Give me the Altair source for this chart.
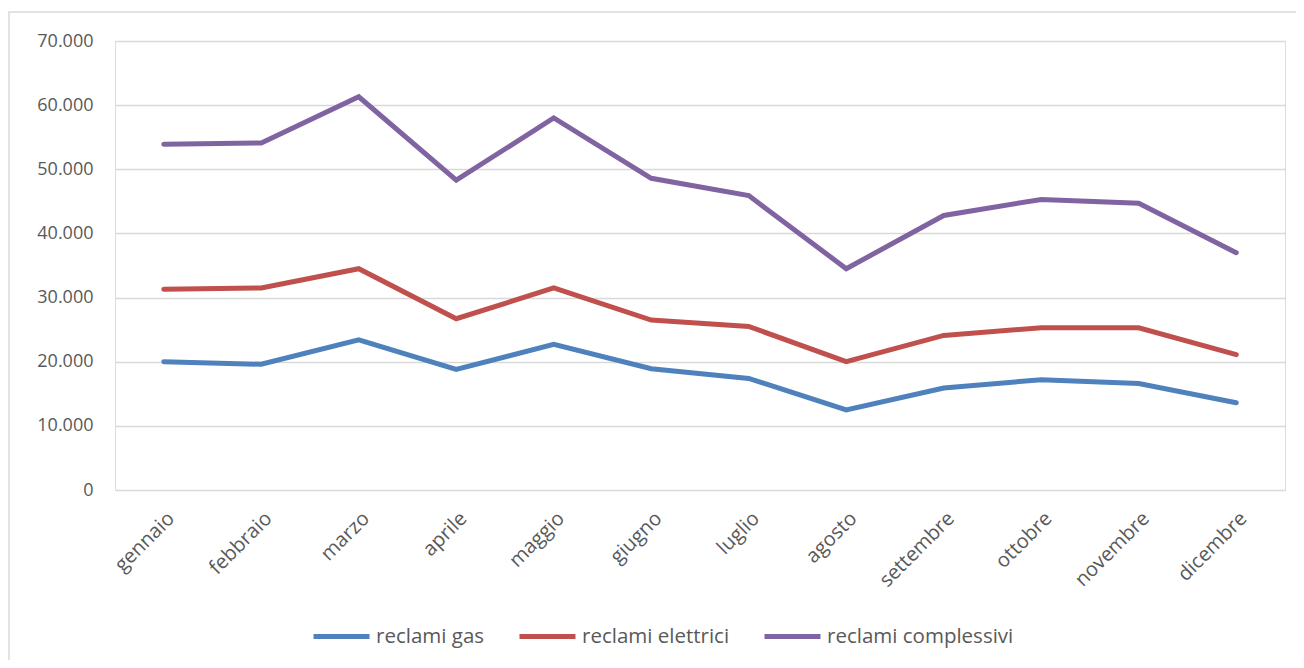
import altair as alt
import pandas as pd

mesi = ["gennaio", "febbraio", "marzo", "aprile", "maggio", "giugno",
        "luglio", "agosto", "settembre", "ottobre", "novembre", "dicembre"]
reclami_gas = [20000, 19600, 23400, 18800, 22700, 18900, 17400, 12500, 15900, 17200, 16600, 13600]
reclami_elettrici = [31300, 31500, 34500, 26700, 31500, 26500, 25500, 20000, 24100, 25300, 25300, 21100]
reclami_complessivi = [53900, 54100, 61300, 48300, 58000, 48600, 45900, 34500, 42800, 45300, 44700, 37000]
serie = ["reclami gas", "reclami elettrici", "reclami complessivi"]
colori = ["#4F81BD", "#C0504D", "#8064A2"]
y_ticks = [0, 10000, 20000, 30000, 40000, 50000, 60000, 70000]

rows = []
for nome, vals in zip(serie, [reclami_gas, reclami_elettrici, reclami_complessivi]):
    for m, v in zip(mesi, vals):
        rows.append({"mese": m, "serie": nome, "valore": v})
df = pd.DataFrame(rows)

FONT = "Open Sans"

lines = alt.Chart(df).mark_line(strokeWidth=5, strokeCap="round").encode(
    x=alt.X("mese:N", sort=mesi, title=None,
            scale=alt.Scale(type="point", padding=0.5),
            axis=alt.Axis(labelAngle=315, grid=False, domain=False, ticks=False,
                          labelPadding=18, labelFontSize=20, labelFont=FONT,
                          labelColor="#595959", labelLimit=0)),
    y=alt.Y("valore:Q", title=None,
            scale=alt.Scale(domain=[0, 70000], nice=False),
            axis=alt.Axis(values=y_ticks, domain=False, ticks=False,
                          gridColor="#D9D9D9", gridWidth=1.4,
                          labelPadding=22, labelFontSize=18, labelFont=FONT,
                          labelColor="#595959",
                          labelExpr="replace(format(datum.value, ',d'), /,/g, '.')")),
    color=alt.Color("serie:N", sort=serie,
                    scale=alt.Scale(domain=serie, range=colori),
                    legend=alt.Legend(title=None, orient="none", direction="horizontal",
                                      legendX=196, legendY=565,
                                      symbolType="stroke", symbolSize=3136,
                                      symbolStrokeWidth=5, labelOffset=4,
                                      columnPadding=24, labelFontSize=20.5,
                                      labelFont=FONT, labelColor="#595959",
                                      labelLimit=0)),
)

frame = alt.Chart(pd.DataFrame({"a": [0]})).mark_rect(
    fill=None, stroke="#D9D9D9", strokeWidth=1.5
).encode(x=alt.value(-106), x2=alt.value(1400), y=alt.value(-29), y2=alt.value(800))

chart = alt.layer(frame, lines).properties(
    width=1170, height=449,
    autosize=alt.AutoSizeParams(type="none"),
    padding={"left": 107, "top": 33, "right": 11, "bottom": 170},
).configure_view(stroke=None).configure(background="white")

chart.save("out.html", embed_options={"renderer": "svg", "actions": False})
